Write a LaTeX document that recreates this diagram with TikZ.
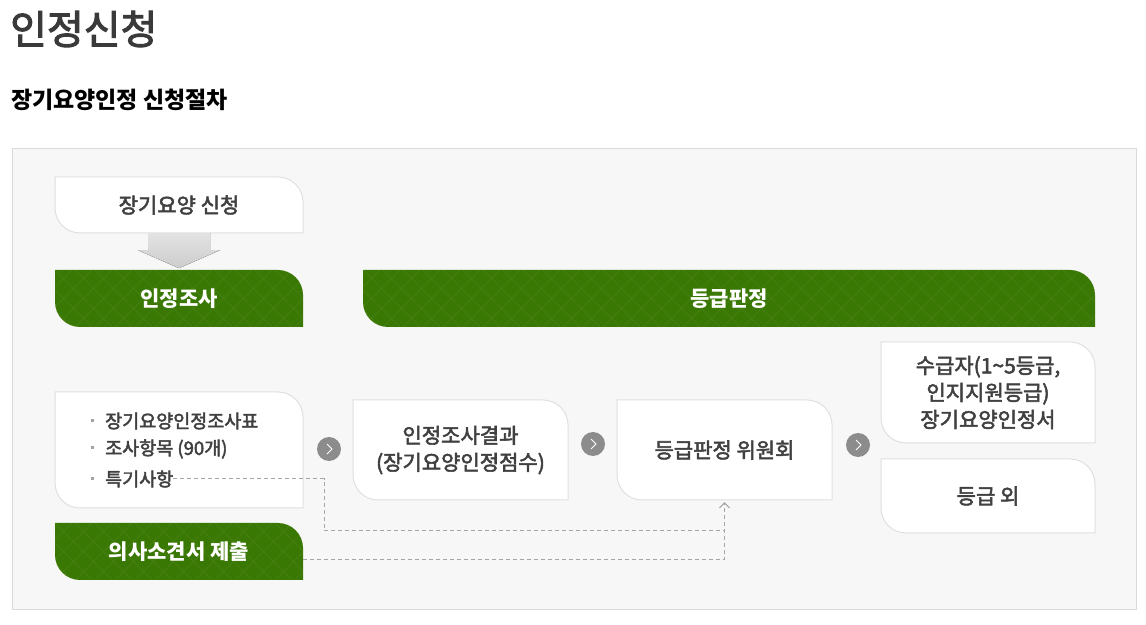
\documentclass[tikz,border=0pt]{standalone}
\usepackage{fontspec}
\setmainfont{Noto Sans CJK KR}
\newfontfamily\labelfont[FakeBold=2.5]{Noto Sans CJK KR}
\usetikzlibrary{arrows.meta}
\definecolor{leaf_green}{RGB}{58, 120, 4}
\definecolor{panel_fill}{RGB}{247, 247, 247}
\definecolor{panel_line}{RGB}{218, 218, 218}
\definecolor{box_line}{RGB}{224, 224, 224}
\definecolor{label_gray}{RGB}{64, 64, 64}
\definecolor{title_gray}{RGB}{58, 58, 58}
\definecolor{mark_gray}{RGB}{140, 140, 140}
\definecolor{dash_gray}{RGB}{165, 165, 165}
\tikzstyle{whitebox}=[fill=white,draw=box_line,line width=1pt]
\tikzstyle{greenbox}=[fill=leaf_green,
  path picture={\foreach \i in {-60,-40,...,760} {
    \draw[white,opacity=0.05,line width=1pt]
      ([xshift=\i pt]path picture bounding box.south west) -- ++(60,60);
    \draw[white,opacity=0.05,line width=1pt]
      ([xshift=\i pt]path picture bounding box.north west) -- ++(60,-60);}}]
\tikzstyle{whitelbl}=[text=label_gray,align=center,inner sep=0pt,
  font=\labelfont\fontsize{21pt}{27pt}\selectfont]
\tikzstyle{greenlbl}=[text=white,align=center,inner sep=0pt,
  font=\fontsize{21pt}{27pt}\selectfont\bfseries]
\tikzstyle{itm}=[anchor=west,text=label_gray,inner sep=0pt,
  font=\labelfont\fontsize{18.5pt}{22pt}\selectfont]
\tikzstyle{nextmark}=[circle,fill=mark_gray,minimum size=24pt,inner sep=0pt,
  path picture={\draw[white,line width=0.9pt]
    ([xshift=-2pt,yshift=5pt]path picture bounding box.center) --
    ([xshift=3pt]path picture bounding box.center) --
    ([xshift=-2pt,yshift=-5pt]path picture bounding box.center);}]
\tikzstyle{dashline}=[draw=dash_gray,line width=1pt,dash pattern=on 4pt off 3pt]
% box with round top right and bottom left corners: name, kind, x0, y0, x1, y1, text
\newcommand{\leafnode}[7]{%
  \path[#2box] (#3,#6) -- ({#5-25},#6) arc[start angle=90,end angle=0,radius=25]
    -- (#5,#4) -- ({#3+25},#4) arc[start angle=270,end angle=180,radius=25] -- cycle;
  \node[#2lbl,minimum width={#5-#3},minimum height={#6-#4}] (#1)
    at ({(#3+#5)/2},{(#4+#6)/2}) {#7};}

\begin{document}
\begin{tikzpicture}[x=1pt,y=1pt]
    \useasboundingbox (0,0) rectangle (1146,624);
    \fill[white] (0,0) rectangle (1146,624);
    \node[anchor=west,inner sep=0pt,text=title_gray,font=\labelfont\fontsize{40pt}{42pt}\selectfont]
      (title) at (10,595) {인정신청};
    \node[anchor=west,inner sep=0pt,font=\fontsize{23pt}{26pt}\selectfont\bfseries]
      (subtitle) at (11,524) {장기요양인정 신청절차};
    \draw[fill=panel_fill,draw=panel_line] (12,15) rectangle (1136,476);

    \leafnode{apply}{white}{55}{391}{303}{447}{장기요양 신청}
    \fill[top color=gray!22,bottom color=gray!40]
      ([xshift=-31pt]apply.south) -- ([xshift=31pt]apply.south)
      -- ([xshift=31pt,yshift=-17pt]apply.south) -- ([xshift=41pt,yshift=-17pt]apply.south)
      -- ([yshift=-35pt]apply.south) -- ([xshift=-41pt,yshift=-17pt]apply.south)
      -- ([xshift=-31pt,yshift=-17pt]apply.south) -- cycle;
    \leafnode{survey}{green}{55}{297}{303}{354}{인정조사}
    \leafnode{grading}{green}{363}{297}{1095}{354}{등급판정}

    \leafnode{sheet}{white}{55}{116}{303}{232}{}
    \node[itm] (item1) at (91,203) {\textcolor{mark_gray!80}{\rule[0.3em]{3pt}{3pt}}\hspace{11pt}장기요양인정조사표};
    \node[itm] (item2) at (91,175) {\textcolor{mark_gray!80}{\rule[0.3em]{3pt}{3pt}}\hspace{11pt}조사항목 (90개)};
    \node[itm] (item3) at (91,145) {\textcolor{mark_gray!80}{\rule[0.3em]{3pt}{3pt}}\hspace{11pt}특기사항};
    \leafnode{result}{white}{353}{124}{568}{224}{인정조사결과\\(장기요양인정점수)}
    \leafnode{committee}{white}{617}{124}{832}{224}{등급판정 위원회}
    \leafnode{grantee}{white}{881}{181}{1095}{282}{수급자(1\textasciitilde5등급,\\인지지원등급)\\장기요양인정서}
    \leafnode{outside}{white}{881}{91}{1095}{165}{등급 외}
    \leafnode{doctor}{green}{55}{44}{303}{101}{의사소견서 제출}

    \node[nextmark] (next1) at (329,175) {};
    \node[nextmark] (next2) at (593,180) {};
    \node[nextmark] (next3) at (858,179) {};

    \coordinate (bend) at (324,93);
    \draw[dashline] (item3.east) -| (bend) -- (committee.south |- bend);
    \draw[dashline,-{Straight Barb[length=5pt,width=10pt]}]
      ([yshift=-8pt]doctor.east) -| ([yshift=-2pt]committee.south);
  \end{tikzpicture}
\end{document}
